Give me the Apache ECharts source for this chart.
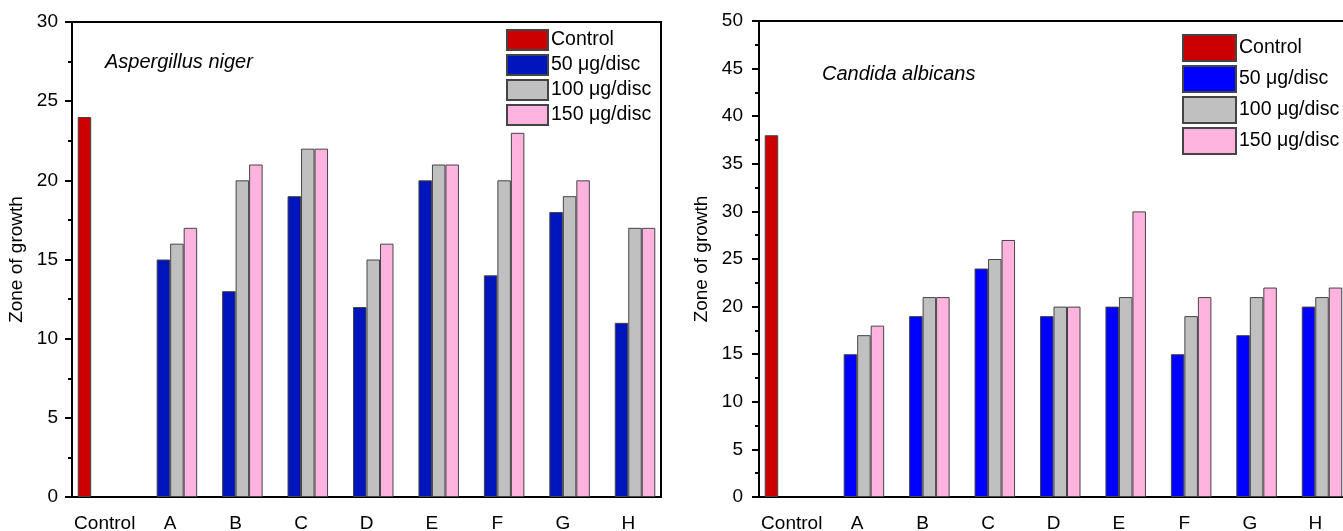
<!DOCTYPE html>
<html>
<head>
<meta charset="utf-8">
<script src="https://cdn.jsdelivr.net/npm/echarts@6/dist/echarts.min.js"></script>
<style>
html, body { margin: 0; padding: 0; background: #fff; }
#left { position: absolute; left: 0; top: 0; width: 680px; height: 531px; }
#right { position: absolute; left: 680px; top: 0; width: 663px; height: 531px; }
</style>
</head>
<body>
<div id="left"></div>
<div id="right"></div>
<script>
var categories = ['Control', 'A', 'B', 'C', 'D', 'E', 'F', 'G', 'H'];
var seriesNames = ['Control', '50 μg/disc', '100 μg/disc', '150 μg/disc'];

// Aspergillus niger
var nigerControl = [24, '-', '-', '-', '-', '-', '-', '-', '-'];
var niger50 = ['-', 15, 13, 19, 12, 20, 14, 18, 11];
var niger100 = ['-', 16, 20, 22, 15, 21, 20, 19, 17];
var niger150 = ['-', 17, 21, 22, 16, 21, 23, 20, 17];

// Candida albicans
var albControl = [38, '-', '-', '-', '-', '-', '-', '-', '-'];
var alb50 = ['-', 15, 19, 24, 19, 20, 15, 17, 20];
var alb100 = ['-', 17, 21, 25, 20, 21, 19, 21, 21];
var alb150 = ['-', 18, 21, 27, 20, 30, 21, 22, 22];

var FONT = 'Liberation Sans';

function buildOption(cfg) {
    var series = [];
    for (var i = 0; i < 4; i++) {
        series.push({
            name: seriesNames[i],
            type: 'bar',
            barWidth: 13.5,
            barGap: '0%',
            itemStyle: { color: cfg.colors[i], borderColor: '#444', borderWidth: 1 },
            data: cfg.data[i]
        });
    }
    return {
        animation: false,
        backgroundColor: '#fff',
        textStyle: { fontFamily: FONT },
        title: {
            text: cfg.title,
            left: cfg.titleLeft,
            top: cfg.titleTop,
            padding: 0,
            textStyle: { fontStyle: 'italic', fontWeight: 'normal', fontSize: 20, color: '#000', fontFamily: FONT }
        },
        legend: {
            orient: 'vertical',
            left: cfg.legendLeft,
            top: cfg.legendTop,
            itemWidth: cfg.legendW,
            itemHeight: cfg.legendH,
            itemGap: 3,
            icon: 'rect',
            padding: 0,
            selectedMode: false,
            textStyle: { fontSize: 19.5, lineHeight: cfg.legendH, color: '#000', padding: [0, 0, 0, -2] },
            data: seriesNames
        },
        grid: {
            left: cfg.gridLeft,
            top: cfg.gridTop,
            width: 589,
            height: cfg.gridHeight,
            outerBoundsMode: 'none',
            containLabel: false,
            show: true,
            borderColor: '#000',
            borderWidth: 2
        },
        xAxis: [{
            type: 'category',
            data: categories,
            position: 'bottom',
            axisLine: { lineStyle: { color: '#000', width: 2 } },
            axisTick: { alignWithLabel: true, length: 8, lineStyle: { color: '#000', width: 2 } },
            axisLabel: { fontSize: 19, color: '#000', margin: 17, interval: 0 },
            splitLine: { show: false }
        }, {
            type: 'category',
            data: categories,
            position: 'bottom',
            offset: 0,
            axisLine: { show: false },
            axisTick: { alignWithLabel: false, length: 4, lineStyle: { color: '#000', width: 2 } },
            axisLabel: { show: false },
            splitLine: { show: false }
        }],
        yAxis: {
            type: 'value',
            min: 0,
            max: cfg.yMax,
            interval: 5,
            name: 'Zone of growth',
            nameLocation: 'middle',
            nameRotate: 90,
            nameGap: cfg.nameGap,
            nameTextStyle: { fontSize: 19, color: '#000' },
            axisLine: { show: true, lineStyle: { color: '#000', width: 2 } },
            axisTick: { show: true, length: 7, lineStyle: { color: '#000', width: 2 } },
            minorTick: { show: true, splitNumber: 2, length: 4, lineStyle: { color: '#000', width: 2 } },
            axisLabel: { fontSize: 19, color: '#000', margin: cfg.labelMargin },
            splitLine: { show: false }
        },
        series: series
    };
}

var leftChart = echarts.init(document.getElementById('left'));
leftChart.setOption(buildOption({
    title: 'Aspergillus niger', titleLeft: 105, titleTop: 52,
    legendLeft: 506, legendTop: 29, legendW: 41, legendH: 20,
    gridLeft: 72, gridTop: 22, gridHeight: 475, yMax: 30, nameGap: 44, labelMargin: 14,
    colors: ['#CC0000', '#0015BC', '#C0C0C0', '#FFB3DE'],
    data: [nigerControl, niger50, niger100, niger150]
}));

var rightChart = echarts.init(document.getElementById('right'));
rightChart.setOption(buildOption({
    title: 'Candida albicans', titleLeft: 142, titleTop: 64,
    legendLeft: 502, legendTop: 34, legendW: 53, legendH: 26,
    gridLeft: 79, gridTop: 21, gridHeight: 476, yMax: 50, nameGap: 47, labelMargin: 16,
    colors: ['#CC0000', '#0000FF', '#C0C0C0', '#FFB3DE'],
    data: [albControl, alb50, alb100, alb150]
}));
</script>
</body>
</html>
